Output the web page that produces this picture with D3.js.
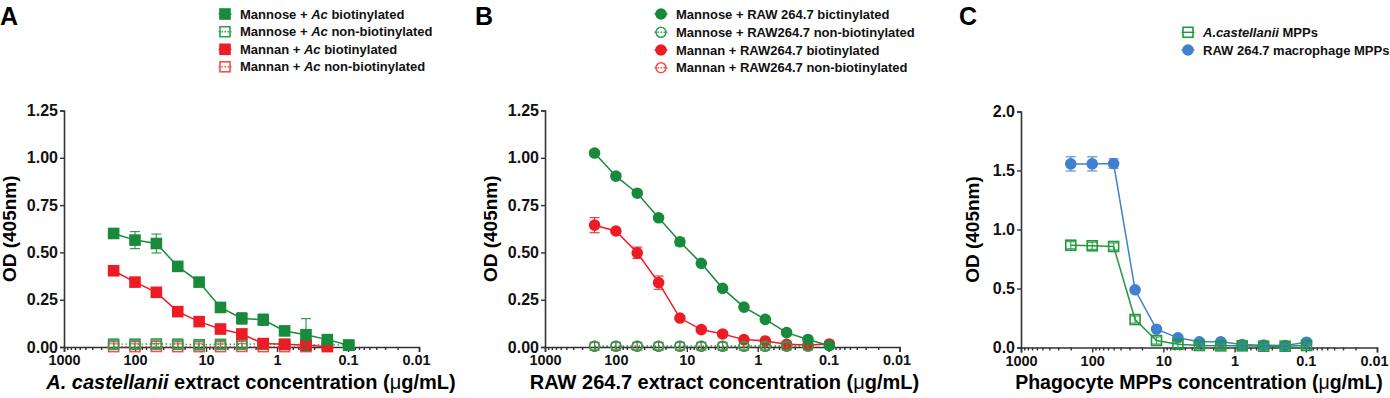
<!DOCTYPE html>
<html>
<head>
<meta charset="utf-8">
<script src="https://cdn.jsdelivr.net/npm/d3@7"></script>
<style>
  body { margin: 0; background: #fff; }
  svg { font-family: "Liberation Sans", Arial, sans-serif; font-weight: bold; }
</style>
</head>
<body>
<svg id="chart" width="1390" height="398"></svg>
<script>
// two-fold dilution series (ug/mL), same in all three panels
const conc = [200, 100, 50, 25, 12.5, 6.25, 3.125, 1.5625, 0.78125, 0.390625, 0.1953125, 0.09765625];

const xTicks = [1000, 100, 10, 1, 0.1, 0.01];
const xTickLabels = ["1000", "100", "10", "1", "0.1", "0.01"];
const yTicksAB = [0, 0.25, 0.5, 0.75, 1.0, 1.25];
const yTickLabelsAB = ["0.00", "0.25", "0.50", "0.75", "1.00", "1.25"];
const yTicksC = [0, 0.5, 1.0, 1.5, 2.0];
const yTickLabelsC = ["0.0", "0.5", "1.0", "1.5", "2.0"];

// panel A - A. castellanii extract
const aMannoseBio = [0.60, 0.565, 0.547, 0.426, 0.343, 0.209, 0.151, 0.144, 0.085, 0.065, 0.039, 0.009];
const aMannoseBioErr = [0.01, 0.045, 0.05, 0.01, 0.01, 0.01, 0.03, 0.03, 0.012, 0.085, 0.01, 0.01];
const aMannoseNon = [0.015, 0.015, 0.016, 0.015, 0.012, 0.014, 0.015, 0.016, 0.014, 0.013, 0.012, 0.01];
const aMannoseNonErr = [0.02, 0.02, 0.02, 0.02, 0.02, 0.02, 0.02, 0.02, 0.02, 0.02, 0.01, 0.01];
const aMannanBio = [0.403, 0.343, 0.289, 0.187, 0.134, 0.095, 0.069, 0.018, 0.014, 0.009, 0.002];
const aMannanBioErr = [0.01, 0.01, 0.01, 0.01, 0.01, 0.01, 0.01, 0.01, 0.01, 0.01, 0.005];
const aMannanNon = [0.002, 0.002, 0.003, 0.002, 0.002, 0.002, 0.003, 0.002, 0.002, 0.002];
const aMannanNonErr = [0.015, 0.015, 0.015, 0.015, 0.015, 0.015, 0.015, 0.015, 0.015, 0.015];

// panel B - RAW 264.7 extract
const bMannoseBio = [1.025, 0.903, 0.813, 0.683, 0.556, 0.442, 0.310, 0.211, 0.146, 0.076, 0.040, 0.007];
const bMannoseBioErr = [0.01, 0.01, 0.01, 0.01, 0.02, 0.01, 0.01, 0.01, 0.01, 0.01, 0.01, 0.01];
const bMannoseNon = [0.004, 0.004, 0.004, 0.004, 0.004, 0.004, 0.004, 0.004, 0.004, 0.004, 0.004];
const bMannoseNonErr = [0.02, 0.02, 0.02, 0.02, 0.02, 0.02, 0.02, 0.02, 0.02, 0.02, 0.02];
const bMannanBio = [0.644, 0.613, 0.498, 0.340, 0.153, 0.092, 0.069, 0.039, 0.032, 0.014, 0.011, 0.016];
const bMannanBioErr = [0.04, 0.01, 0.03, 0.035, 0.01, 0.01, 0.01, 0.01, 0.01, 0.01, 0.01, 0.01];
const bMannanNon = [0.004, 0.004, 0.004, 0.004, 0.004, 0.004, 0.004, 0.004, 0.004, 0.006, 0.006];
const bMannanNonErr = [0.02, 0.02, 0.02, 0.02, 0.02, 0.02, 0.02, 0.02, 0.02, 0.02, 0.02];

// panel C - phagocyte MPPs
const cAcanth = [0.867, 0.862, 0.856, 0.237, 0.059, 0.028, 0.017, 0.014, 0.014, 0.011, 0.011, 0.017];
const cAcanthErr = [0.03, 0.03, 0.03, 0.03, 0.03, 0.03, 0.03, 0.03, 0.03, 0.03, 0.03, 0.03];
const cRaw = [1.556, 1.556, 1.559, 0.489, 0.155, 0.082, 0.048, 0.048, 0.025, 0.020, 0.017, 0.045];
const cRawErr = [0.06, 0.06, 0.04, 0.01, 0.01, 0.01, 0.01, 0.01, 0.01, 0.01, 0.01, 0.01];

const green = "#188a3c", greenOpen = "#2c9f50";
const red = "#ed1c24", redOpen = "#f0524a";
const blue = "#3f80cf";

let svg = d3.select("#chart");

let panels = [
  {
    letter: "A", letterX: 0,
    left: 64, right: 419, top: 110.5, bottom: 347,
    yMax: 1.25, yTicks: yTicksAB, yLabels: yTickLabelsAB, yTitleX: 16, xTitleX: 251, xTitleSize: 20,
    xTitle: [["A. castellanii", true], [" extract concentration (", false], ["\u03bc", false, true], ["g/mL)", false]],
    legendX: 225, legendTextX: 240, legendY: [14, 31.7, 49.3, 66.8],
    series: [
      { name: [["Mannan + ", false], ["Ac", true], [" non-biotinylated", false]], v: aMannanNon, e: aMannanNonErr, color: redOpen, shape: "square", filled: false, dotted: true, legendRow: 3 },
      { name: [["Mannose + ", false], ["Ac", true], [" non-biotinylated", false]], v: aMannoseNon, e: aMannoseNonErr, color: greenOpen, shape: "square", filled: false, dotted: true, legendRow: 1 },
      { name: [["Mannan + ", false], ["Ac", true], [" biotinylated", false]], v: aMannanBio, e: aMannanBioErr, color: red, shape: "square", filled: true, legendRow: 2 },
      { name: [["Mannose + ", false], ["Ac", true], [" biotinylated", false]], v: aMannoseBio, e: aMannoseBioErr, color: green, shape: "square", filled: true, legendRow: 0 },
    ],
  },
  {
    letter: "B", letterX: 475,
    left: 545, right: 899.5, top: 110.5, bottom: 347,
    yMax: 1.25, yTicks: yTicksAB, yLabels: yTickLabelsAB, yTitleX: 497, xTitleX: 724.5, xTitleSize: 20,
    xTitle: [["RAW 264.7 extract concentration (", false], ["\u03bc", false, true], ["g/mL)", false]],
    legendX: 661, legendTextX: 676, legendY: [14, 32.3, 50, 67.7],
    series: [
      { name: [["Mannan + RAW264.7 non-biotinylated", false]], v: bMannanNon, e: bMannanNonErr, color: redOpen, shape: "circle", filled: false, dotted: true, legendRow: 3 },
      { name: [["Mannan + RAW264.7 biotinylated", false]], v: bMannanBio, e: bMannanBioErr, color: red, shape: "circle", filled: true, legendRow: 2 },
      { name: [["Mannose + RAW264.7 non-biotinylated", false]], v: bMannoseNon, e: bMannoseNonErr, color: greenOpen, shape: "circle", filled: false, dotted: true, legendRow: 1 },
      { name: [["Mannose + RAW 264.7 bictinylated", false]], v: bMannoseBio, e: bMannoseBioErr, color: green, shape: "circle", filled: true, legendRow: 0 },
    ],
  },
  {
    letter: "C", letterX: 959,
    left: 1021, right: 1377, top: 111.5, bottom: 347.5,
    yMax: 2.0, yTicks: yTicksC, yLabels: yTickLabelsC, yTitleX: 979, xTitleX: 1199, xTitleSize: 19.5,
    xTitle: [["Phagocyte MPPs concentration (", false], ["\u03bc", false, true], ["g/mL)", false]],
    legendX: 1188, legendTextX: 1203, legendY: [32.3, 50],
    series: [
      { name: [["RAW 264.7 macrophage MPPs", false]], v: cRaw, e: cRawErr, color: blue, shape: "circle", filled: true, legendRow: 1 },
      { name: [["A.castellanii", true], [" MPPs", false]], v: cAcanth, e: cAcanthErr, color: "#22993f", shape: "square", filled: false, legendRow: 0 },
    ],
  },
];

function addParts(text, parts) {
  parts.forEach((p) => {
    text.append("tspan")
      .text(p[0])
      .attr("font-style", p[1] ? "italic" : "normal")
      .attr("font-weight", p[2] ? "normal" : "bold");
  });
}

function drawMarker(g, s, x, y) {
  let fill = s.filled ? s.color : "none";
  if (s.shape == "square") {
    g.append("rect")
      .attr("x", x - 5).attr("y", y - 5)
      .attr("width", 10).attr("height", 10)
      .attr("fill", fill).attr("stroke", s.color).attr("stroke-width", 1.6);
  } else {
    g.append("circle")
      .attr("cx", x).attr("cy", y).attr("r", 5)
      .attr("fill", fill).attr("stroke", s.color).attr("stroke-width", 1.6);
  }
}

panels.forEach((p) => {
  let xScale = d3.scaleLog().domain([1000, 0.01]).range([p.left, p.right]);
  let yScale = d3.scaleLinear().domain([0, p.yMax]).range([p.bottom, p.top]);

  // panel letter
  svg.append("text")
    .text(p.letter)
    .attr("x", p.letterX).attr("y", 25)
    .attr("font-size", 25);

  // minor ticks on the log axis
  let minor = [];
  for (let d = 0.01; d < 1000; d *= 10) {
    for (let k = 2; k <= 9; k++) minor.push(d * k);
  }

  let xAxis = d3.axisBottom(xScale)
    .tickValues(xTicks)
    .tickFormat((d, i) => xTickLabels[i])
    .tickSize(5).tickPadding(3);
  let xMinor = d3.axisBottom(xScale).tickValues(minor).tickFormat("").tickSize(3);
  let yAxis = d3.axisLeft(yScale)
    .tickValues(p.yTicks)
    .tickFormat((d, i) => p.yLabels[i])
    .tickSize(4).tickPadding(2);

  let gx = svg.append("g")
    .attr("transform", "translate(0," + p.bottom + ")")
    .call(xAxis);
  gx.selectAll("text").attr("font-size", 14.5).attr("fill", "#111").attr("font-family", null);
  // last label sits right at the picture edge, pull it in a little
  gx.selectAll("text").filter((d) => d == 0.01).attr("dx", -3);
  svg.append("g")
    .attr("transform", "translate(0," + p.bottom + ")")
    .call(xMinor)
    .select(".domain").remove();

  let gy = svg.append("g")
    .attr("transform", "translate(" + p.left + ",0)")
    .call(yAxis);
  gy.selectAll("text").attr("font-size", 16).attr("fill", "#111").attr("font-family", null);

  svg.selectAll(".domain").attr("stroke", "#333").attr("stroke-width", 1.6);
  svg.selectAll(".tick line").attr("stroke", "#333").attr("stroke-width", 1.4);

  // axis titles
  let xt = svg.append("text")
    .attr("x", p.xTitleX).attr("y", 389)
    .attr("text-anchor", "middle")
    .attr("font-size", p.xTitleSize);
  addParts(xt, p.xTitle);

  svg.append("text")
    .text("OD (405nm)")
    .attr("transform", "translate(" + p.yTitleX + "," + (p.top + p.bottom) / 2 + ") rotate(-90)")
    .attr("text-anchor", "middle")
    .attr("font-size", 19);

  // data
  let line = d3.line()
    .x((d) => xScale(d[0]))
    .y((d) => yScale(d[1]));

  p.series.forEach((s) => {
    let pts = s.v.map((v, i) => [conc[i], v, s.e[i]]);
    let g = svg.append("g");

    g.append("path")
      .datum(pts)
      .attr("d", line)
      .attr("fill", "none")
      .attr("stroke", s.color)
      .attr("stroke-width", s.dotted ? 1.4 : 1.5)
      .attr("stroke-dasharray", s.dotted ? "1.5,2.5" : null);

    // error bars
    let eb = g.selectAll(".err").data(pts).enter().append("g");
    eb.append("line")
      .attr("x1", (d) => xScale(d[0])).attr("x2", (d) => xScale(d[0]))
      .attr("y1", (d) => yScale(d[1] - d[2])).attr("y2", (d) => yScale(d[1] + d[2]))
      .attr("stroke", s.color).attr("stroke-width", 1.2).attr("opacity", 0.85);
    [-1, 1].forEach((sign) => {
      eb.append("line")
        .attr("x1", (d) => xScale(d[0]) - 5).attr("x2", (d) => xScale(d[0]) + 5)
        .attr("y1", (d) => yScale(d[1] + sign * d[2])).attr("y2", (d) => yScale(d[1] + sign * d[2]))
        .attr("stroke", s.color).attr("stroke-width", 1.2).attr("opacity", 0.85);
    });

    pts.forEach((d) => drawMarker(g, s, xScale(d[0]), yScale(d[1])));

    // legend entry
    let ly = p.legendY[s.legendRow];
    let lg = svg.append("g");
    lg.append("line")
      .attr("x1", p.legendX - 6.5).attr("x2", p.legendX + 6.5)
      .attr("y1", ly).attr("y2", ly)
      .attr("stroke", s.color).attr("stroke-width", 1.4)
      .attr("stroke-dasharray", s.dotted ? "1.5,1.5" : null);
    drawMarker(lg, s, p.legendX, ly);
    let lt = lg.append("text")
      .attr("x", p.legendTextX).attr("y", ly + 4.5)
      .attr("font-size", 13).attr("fill", "#111");
    addParts(lt, s.name);
  });
});
</script>
</body>
</html>
